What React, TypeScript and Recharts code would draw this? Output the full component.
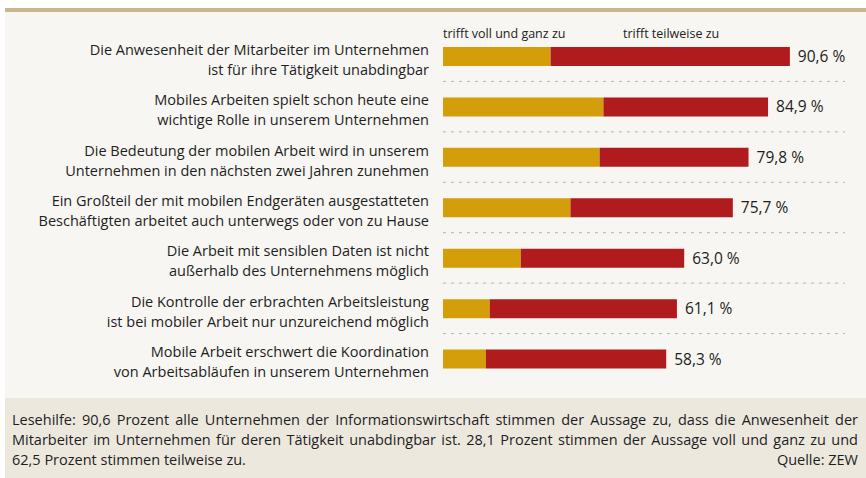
import React from "react";
import {
  BarChart,
  Bar,
  XAxis,
  YAxis,
  CartesianGrid,
  Legend,
  LabelList,
} from "recharts";

// statements (two lines each, split on "\n")
const statements = [
  "Die Anwesenheit der Mitarbeiter im Unternehmen\nist für ihre Tätigkeit unabdingbar",
  "Mobiles Arbeiten spielt schon heute eine\nwichtige Rolle in unserem Unternehmen",
  "Die Bedeutung der mobilen Arbeit wird in unserem\nUnternehmen in den nächsten zwei Jahren zunehmen",
  "Ein Großteil der mit mobilen Endgeräten ausgestatteten\nBeschäftigten arbeitet auch unterwegs oder von zu Hause",
  "Die Arbeit mit sensiblen Daten ist nicht\naußerhalb des Unternehmens möglich",
  "Die Kontrolle der erbrachten Arbeitsleistung\nist bei mobiler Arbeit nur unzureichend möglich",
  "Mobile Arbeit erschwert die Koordination\nvon Arbeitsabläufen in unserem Unternehmen",
];

// percent of companies
const vollUndGanz = [28.1, 41.9, 40.9, 33.3, 20.3, 12.2, 11.2];
const teilweise = [62.5, 43.0, 38.9, 42.4, 42.7, 48.9, 47.1];
const totals = [90.6, 84.9, 79.8, 75.7, 63.0, 61.1, 58.3];

const seriesNames = ["trifft voll und ganz zu", "trifft teilweise zu"];

const data = statements.map((s, i) => ({
  statement: s,
  voll: vollUndGanz[i],
  teil: teilweise[i],
  total: totals[i],
}));

const FONT = "'Open Sans', sans-serif";
const YELLOW = "#d49e0a";
const RED = "#b01b1d";

function StatementTick(props: any) {
  const { x, y, payload } = props;
  const lines = String(payload.value).split("\n");
  return (
    <text
      x={x}
      y={y}
      textAnchor="end"
      fontFamily={FONT}
      fontSize={14.5}
      fill="#1e1e1e"
    >
      <tspan x={x - 6} y={y - 1.5}>{lines[0]}</tspan>
      <tspan x={x - 6} y={y + 18.5}>{lines[1]}</tspan>
    </text>
  );
}

// zero-height so the legend does not push the plot down
function LegendTop() {
  return (
    <div style={{ fontFamily: FONT, fontSize: 12.5, color: "#222", position: "relative", height: 0, overflow: "visible" }}>
      <span style={{ position: "absolute", left: 0, top: 0, whiteSpace: "nowrap" }}>{seriesNames[0]}</span>
      <span style={{ position: "absolute", left: 180, top: 0, whiteSpace: "nowrap" }}>{seriesNames[1]}</span>
    </div>
  );
}

export default function App() {
  return (
    <div
      style={{
        position: "absolute",
        left: 0,
        top: 0,
        width: 866,
        height: 478,
        background: "#fff",
        overflow: "hidden",
      }}
    >
      <div style={{ position: "absolute", left: 5, top: 8, width: 861, height: 4, background: "#c8b68c" }} />
      <div style={{ position: "absolute", left: 5, top: 12, width: 861, height: 386, background: "#f7f6f2" }} />
      <div style={{ position: "absolute", left: 0, top: 0 }}>
        <BarChart
          width={866}
          height={398}
          data={data}
          layout="vertical"
          margin={{ top: 31, right: 21, bottom: 14, left: 0 }}
          barSize={19}
        >
          <CartesianGrid
            vertical={false}
            stroke="#b4b4b4"
            strokeDasharray="3 5"
            horizontalCoordinatesGenerator={({ offset }: any) =>
              statements.slice(1).map((_, i) => offset.top + (offset.height * (i + 1)) / statements.length)
            }
          />
          <XAxis type="number" domain={[0, 105]} hide />
          <YAxis
            type="category"
            dataKey="statement"
            width={443}
            axisLine={false}
            tickLine={false}
            tick={<StatementTick />}
            interval={0}
          />
          <Legend
            verticalAlign="top"
            content={<LegendTop />}
            wrapperStyle={{ position: "absolute", top: 25, left: 443, width: 300, height: 0 }}
          />
          <Bar dataKey="voll" stackId="a" fill={YELLOW} isAnimationActive={false} />
          <Bar dataKey="teil" stackId="a" fill={RED} isAnimationActive={false}>
            <LabelList
              dataKey="total"
              position="right"
              offset={8}
              formatter={(v: any) => Number(v).toFixed(1).replace(".", ",") + " %"}
              style={{ fontFamily: FONT, fontSize: 15.5, fill: "#1e1e1e" }}
            />
          </Bar>
        </BarChart>
      </div>
      <div
        style={{
          position: "absolute",
          left: 5,
          top: 398,
          width: 861,
          height: 80,
          background: "#ece8de",
          fontFamily: FONT,
          fontSize: 14.5,
          lineHeight: "20px",
          color: "#1e1e1e",
          boxSizing: "border-box",
          padding: "12px 8px 0 7px",
        }}
      >
        <div style={{ textAlign: "justify", textAlignLast: "justify", whiteSpace: "nowrap" }}>
          Lesehilfe: 90,6 Prozent alle Unternehmen der Informationswirtschaft stimmen der Aussage zu, dass die Anwesenheit der
        </div>
        <div style={{ textAlign: "justify", textAlignLast: "justify", whiteSpace: "nowrap" }}>
          Mitarbeiter im Unternehmen für deren Tätigkeit unabdingbar ist. 28,1 Prozent stimmen der Aussage voll und ganz zu und
        </div>
        <div style={{ display: "flex", justifyContent: "space-between" }}>
          <span>62,5 Prozent stimmen teilweise zu.</span>
          <span>Quelle: ZEW</span>
        </div>
      </div>
    </div>
  );
}
